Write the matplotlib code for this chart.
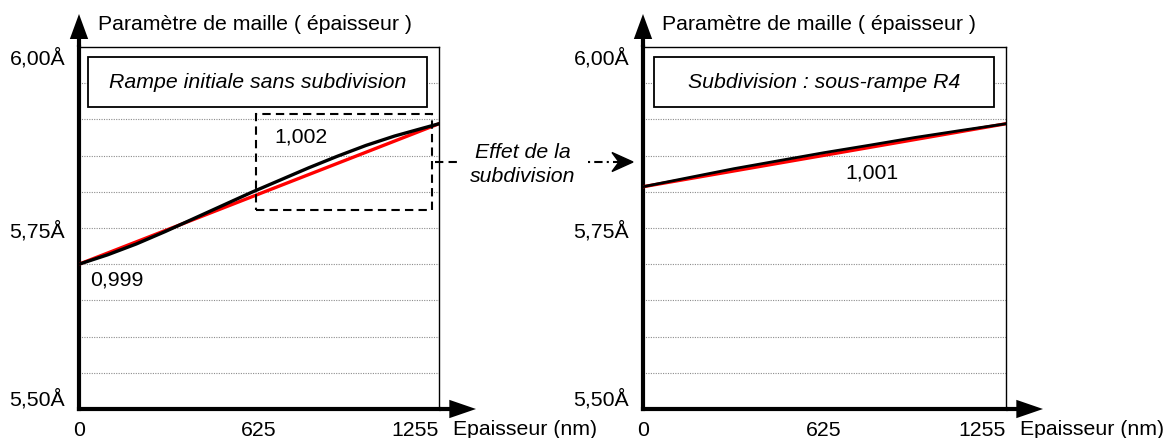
import numpy as np
import matplotlib
matplotlib.use("Agg")
import matplotlib.pyplot as plt
from matplotlib.patches import Rectangle, Polygon

plt.rcParams['font.family'] = ['Liberation Sans', 'DejaVu Sans']
FS = 15.3

# thickness axis (nm)
x_ticks = [0, 625, 1255]
x_tick_labels = ['0', '625', '1255']
y_ticks = [5.50, 5.75, 6.00]
y_tick_labels = ['5,50Å', '5,75Å', '6,00Å']
y_grid = [5.55, 5.60, 5.65, 5.70, 5.75, 5.80, 5.85, 5.90, 5.95]

# initial ramp, no subdivision
ramp_x = [0, 100, 200, 300, 400, 500, 600, 700, 800, 900, 1000, 1100, 1200, 1255]
ramp_a = [5.700, 5.713, 5.728, 5.745, 5.763, 5.781, 5.799, 5.816, 5.833,
          5.849, 5.864, 5.877, 5.888, 5.894]
ramp_lin_x = [0, 1255]
ramp_lin_a = [5.700, 5.894]

# subdivided: sub-ramp R4
sub_x = [0, 157, 315, 470, 625, 785, 940, 1100, 1255]
sub_a = [5.807, 5.8195, 5.832, 5.843, 5.854, 5.8645, 5.875, 5.8848, 5.894]
sub_lin_x = [0, 1255]
sub_lin_a = [5.807, 5.894]

W, H = 1167, 439
fig = plt.figure(figsize=(W / 100, H / 100), dpi=100)


def px(x, y):
    # pixel position (from top-left) -> figure fraction
    return x / W, 1 - y / H


def setup_axes(left, right, title):
    ax = fig.add_axes([left / W, (H - 410) / H, (right - left) / W, 362 / H])
    ax.set_xlim(0, 1255)
    ax.set_ylim(5.50, 6.00)
    for y in y_grid:
        ax.axhline(y, color='#8c8c8c', lw=0.8, ls=(0, (1, 1.2)), zorder=1)
    for s in ['top', 'right']:
        ax.spines[s].set_linewidth(1.0)
    for s in ['left', 'bottom']:
        ax.spines[s].set_linewidth(3.0)
    ax.set_xticks(x_ticks)
    ax.set_xticklabels(x_tick_labels, fontsize=FS)
    ax.set_yticks(y_ticks)
    ax.set_yticklabels(y_tick_labels, fontsize=FS)
    ax.tick_params(axis='x', length=0, pad=8)
    ax.tick_params(axis='y', length=0, pad=10)
    xl = ax.get_xticklabels()
    xl[-1].set_horizontalalignment('right')
    yl = ax.get_yticklabels()
    yl[0].set_verticalalignment('bottom')
    yl[-1].set_verticalalignment('top')

    # axis arrows
    for start, end, hl, hw in [((0, 1), (0, 1 + 33 / 362), 1.5, 0.55),
                               ((1, 0), (1 + 37 / (right - left), 0), 1.6, 0.55)]:
        ax.annotate('', xy=end, xytext=start, xycoords='axes fraction',
                    arrowprops=dict(arrowstyle='-', lw=3, color='black',
                                    shrinkA=0, shrinkB=12, capstyle='butt'),
                    annotation_clip=False)
        ax.annotate('', xy=end, xytext=start, xycoords='axes fraction',
                    arrowprops=dict(arrowstyle=f'-|>,head_length={hl},head_width={hw}',
                                    lw=0, color='black', mutation_scale=12,
                                    shrinkA=0, shrinkB=0),
                    annotation_clip=False)

    ax.text(19 / (right - left), 1 + 23 / 362, 'Paramètre de maille ( épaisseur )',
            transform=ax.transAxes, fontsize=FS, ha='left', va='center')
    ax.text(1 + 14 / (right - left), -20 / 362, 'Epaisseur (nm)',
            transform=ax.transAxes, fontsize=FS, ha='left', va='center')

    box_l = (9 if left < 100 else 11) / (right - left)
    box_r = 1 - 12 / (right - left)
    ax.add_patch(Rectangle((box_l, 302 / 362), box_r - box_l, 50 / 362,
                           transform=ax.transAxes, facecolor='white',
                           edgecolor='black', lw=1.3, zorder=5))
    ax.text((box_l + box_r) / 2, 327 / 362, title, transform=ax.transAxes,
            fontsize=FS, style='italic', ha='center', va='center', zorder=6)
    return ax


ax1 = setup_axes(79, 439, 'Rampe initiale sans subdivision')
ax1.plot(ramp_lin_x, ramp_lin_a, color='#ff0000', lw=2.4, zorder=3)
ax1.plot(ramp_x, ramp_a, color='black', lw=2.4, zorder=4)
ax1.text(132, 5.680, '0,999', fontsize=FS, ha='center', va='center')
ax1.text(774, 5.877, '1,002', fontsize=FS, ha='center', va='center')
ax1.add_patch(Rectangle((617, 5.775), 1231 - 617, 5.9075 - 5.775, fill=False,
                        edgecolor='black', lw=1.5, ls=(0, (4, 2.5)), zorder=6,
                        clip_on=False))

ax2 = setup_axes(643, 1006, 'Subdivision : sous-rampe R4')
ax2.plot(sub_lin_x, sub_lin_a, color='#ff0000', lw=2.4, zorder=3)
ax2.plot(sub_x, sub_a, color='black', lw=2.0, zorder=4)
ax2.text(792, 5.827, '1,001', fontsize=FS, ha='center', va='center')

# link between the two panels
fig.add_artist(plt.Line2D(*zip(px(435, 163), px(457, 163)), color='black',
                          lw=1.5, ls=(0, (4, 2.5))))
fig.text(*px(523, 152), 'Effet de la', fontsize=FS, style='italic',
         ha='center', va='center')
fig.text(*px(523, 177), 'subdivision', fontsize=FS, style='italic',
         ha='center', va='center')
fig.add_artist(plt.Line2D(*zip(px(588, 163), px(618, 163)), color='black',
                          lw=1.5, ls=(0, (1, 2, 4, 2))))
fig.add_artist(Polygon([px(633, 163), px(612, 153.5), px(619, 163), px(612, 172.5)],
                       closed=True, transform=fig.transFigure, color='black'))

fig.savefig('out.png', dpi=100)
